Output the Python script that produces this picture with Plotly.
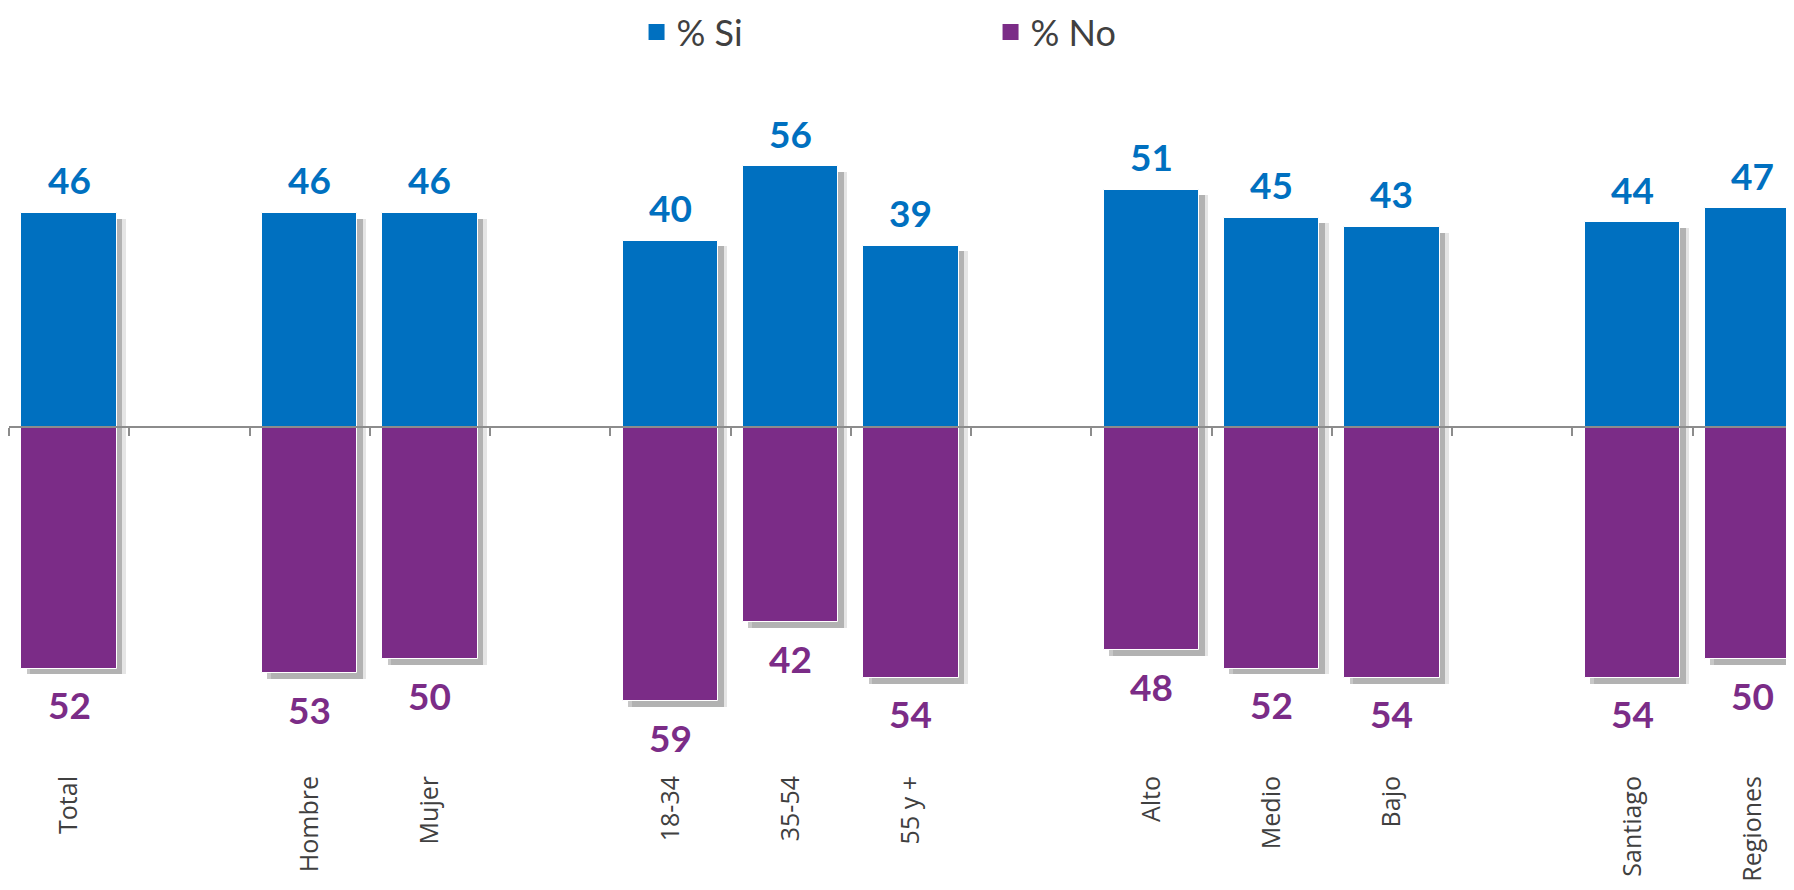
import plotly.graph_objects as go

# Data
categories = ["Total", "Hombre", "Mujer", "18-34", "35-54", "55 y +", "Alto", "Medio", "Bajo", "Santiago", "Regiones"]
slots = [0, 2, 3, 5, 6, 7, 9, 10, 11, 13, 14]  # position slots with group gaps
si_values = [46, 46, 46, 40, 56, 39, 51, 45, 43, 44, 47]
no_values = [52, 53, 50, 59, 42, 54, 48, 52, 54, 54, 50]
series_names = ["% Si", "% No"]

BLUE = "#0070C0"
PURPLE = "#7B2C87"
AXIS = "#8c8c8c"
TEXT = "#404040"

YMIN, YMAX = -73.8, 74.6
XRANGE = [-0.5, 14.41]
BAR_W = 0.795
SH_DY = 1.2

fig = go.Figure()

# shadows
for dx, alpha in [(0.075, 0.10), (0.045, 0.22)]:
    fig.add_trace(go.Bar(x=[s + dx for s in slots], y=[v - SH_DY for v in si_values], width=BAR_W,
                         marker=dict(color=f"rgba(0,0,0,{alpha})", line=dict(width=0)),
                         showlegend=False, hoverinfo="skip"))
    fig.add_trace(go.Bar(x=[s + dx for s in slots], y=[-(v + SH_DY) for v in no_values], width=BAR_W,
                         marker=dict(color=f"rgba(0,0,0,{alpha})", line=dict(width=0)),
                         showlegend=False, hoverinfo="skip"))

fig.add_trace(go.Bar(x=slots, y=si_values, width=BAR_W, name=series_names[0], showlegend=False,
                     marker=dict(color=BLUE, line=dict(color="white", width=1))))
fig.add_trace(go.Bar(x=slots, y=[-v for v in no_values], width=BAR_W, name=series_names[1], showlegend=False,
                     marker=dict(color=PURPLE, line=dict(color="white", width=1))))

# legend entries (square markers)
for name, col in zip(series_names, [BLUE, PURPLE]):
    fig.add_trace(go.Scatter(x=[None], y=[None], mode="markers", name=name,
                             marker=dict(symbol="square", size=18, color=col)))

annotations = []
for s, v in zip(slots, si_values):
    annotations.append(dict(x=s, y=v, text=str(v), showarrow=False, yshift=33, yanchor="middle",
                            font=dict(family="Lato", size=37, color=BLUE, weight="bold")))
for s, v in zip(slots, no_values):
    annotations.append(dict(x=s, y=-v, text=str(v), showarrow=False, yshift=-36, yanchor="middle",
                            font=dict(family="Lato", size=37, color=PURPLE, weight="bold")))

fig.update_layout(
    width=1794, height=890,
    margin=dict(l=1, r=0, t=72, b=128, autoexpand=False),
    paper_bgcolor="white", plot_bgcolor="white",
    barmode="overlay",
    bargap=0,
    annotations=annotations,
    legend=dict(orientation="h", x=0.35, xanchor="left", y=1.0696, yanchor="middle",
                font=dict(family="Lato", size=36, color=TEXT),
                entrywidth=309, entrywidthmode="pixels", traceorder="normal"),
    xaxis=dict(range=XRANGE, tickvals=slots, ticktext=categories, tickangle=-90,
               showgrid=False, zeroline=False, showline=False, ticks="",
               automargin=False,
               tickfont=dict(family="Open Sans", size=25, color=TEXT)),
    xaxis2=dict(range=XRANGE, overlaying="x", anchor="free", side="bottom",
                position=-YMIN / (YMAX - YMIN),
                tickvals=[i - 0.5 for i in range(16)], showticklabels=False,
                ticks="outside", ticklen=8, tickwidth=2, tickcolor=AXIS,
                showline=True, linecolor=AXIS, linewidth=2, showgrid=False, zeroline=False),
    yaxis=dict(range=[YMIN, YMAX], visible=False, showgrid=False, zeroline=False),
)
# invisible trace to activate xaxis2
fig.add_trace(go.Scatter(x=[0], y=[0], xaxis="x2", mode="markers", marker=dict(opacity=0),
                         showlegend=False, hoverinfo="skip"))

fig.write_html("out.html")
